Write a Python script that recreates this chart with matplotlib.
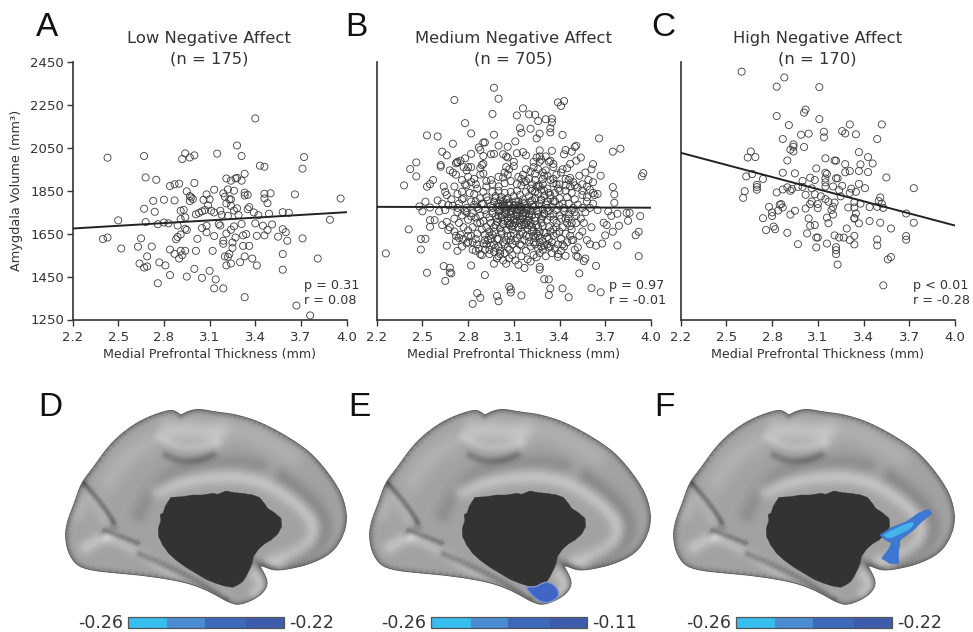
import numpy as np
import matplotlib
matplotlib.use("Agg")
import matplotlib.pyplot as plt
from matplotlib.patches import Polygon

# values
low_x = [2.43,2.67,2.68,2.75,2.84,2.87,2.90,3.00,2.94,2.92,
         2.97,3.00,3.15,3.28,3.31,3.40,3.43,3.46,3.72,3.71,
         3.33,3.27,3.28,3.21,3.24,3.31,3.13,3.22,3.26,3.19,
         3.20,2.95,2.97,2.98,2.99,2.97,3.08,3.06,3.10,3.09,
         2.73,2.80,2.87,2.67,2.74,2.50,2.68,2.76,2.80,2.83,
         2.89,2.91,2.94,2.91,2.93,3.01,3.03,3.05,3.07,3.11,
         3.13,3.17,3.18,3.22,3.24,3.23,3.24,3.21,3.26,3.28,
         3.29,3.35,3.36,3.33,3.33,3.35,3.39,3.42,3.46,3.46,
         3.50,3.48,3.49,3.58,3.62,3.66,3.96,3.89,3.71,3.61,
         3.60,3.58,3.55,3.51,3.48,3.45,3.46,3.41,3.40,3.31,
         3.26,3.24,3.21,3.34,3.32,3.27,3.25,3.19,3.19,3.16,
         3.17,3.13,3.08,3.05,3.08,3.02,2.95,2.94,2.91,2.89,
         2.88,2.65,2.40,2.43,2.52,2.63,2.72,2.84,2.87,2.91,
         2.94,3.01,3.12,2.92,2.90,2.69,2.64,2.67,2.69,2.77,
         2.81,2.84,2.76,2.95,3.00,3.05,3.10,3.14,3.13,3.19,
         3.33,3.67,3.76,3.58,3.58,3.81,3.41,3.38,3.33,3.30,
         3.24,3.21,3.22,3.23,3.20,3.25,3.32,3.36]
low_y = [2004,2012,1912,1901,1872,1880,1883,1886,2024,1998,
         2005,2015,2023,2061,2012,2187,1967,1962,2007,1953,
         1929,1907,1910,1907,1897,1897,1855,1856,1850,1838,
         1822,1847,1825,1819,1811,1802,1833,1808,1810,1782,
         1803,1808,1805,1766,1752,1712,1704,1694,1702,1698,
         1688,1718,1726,1757,1761,1740,1747,1754,1760,1757,
         1749,1757,1738,1733,1780,1810,1810,1791,1758,1768,
         1737,1764,1774,1828,1841,1831,1749,1736,1814,1836,
         1838,1792,1743,1750,1747,1833,1814,1715,1628,1617,
         1657,1671,1636,1693,1667,1687,1642,1640,1698,1695,
         1684,1668,1651,1648,1642,1632,1609,1617,1603,1695,
         1688,1639,1687,1676,1656,1626,1667,1673,1646,1635,
         1624,1628,1625,1632,1581,1589,1590,1576,1556,1570,
         1570,1570,1570,1550,1534,1544,1511,1492,1497,1516,
         1502,1457,1419,1450,1486,1444,1477,1437,1395,1395,
         1354,1315,1269,1482,1555,1534,1502,1534,1544,1517,
         1511,1502,1542,1555,1544,1583,1593,1593]

# outer points of panel B are read one by one, the dense middle is estimated
medium_x = [2.26,2.41,2.38,2.42,2.46,2.46,2.53,2.60,2.71,2.70,
            2.78,2.82,2.97,3.00,2.96,2.97,3.12,3.16,3.20,3.24,
            3.26,3.31,3.35,3.35,3.34,3.34,3.39,3.43,3.41,3.14,
            3.15,3.21,3.25,3.27,3.42,3.66,3.75,3.80,3.95,3.94,
            3.75,3.76,3.76,3.67,3.62,3.61,3.54,3.51,3.50,3.48,
            3.44,3.43,3.35,3.27,3.11,3.06,3.00,2.91,2.90,2.87,
            2.82,2.78,2.73,2.72,2.63,2.66,2.62,2.62,2.57,2.55,
            2.53,2.64,2.65,2.48,2.52,2.55,2.50,2.61,2.65,2.67,
            2.55,2.58,2.55,2.63,2.66,2.67,2.49,2.52,2.49,2.66,
            2.73,2.53,2.64,2.68,2.68,2.69,2.65,2.82,2.91,2.86,
            2.88,2.83,2.99,3.00,3.07,3.08,3.08,3.15,3.27,3.27,
            3.30,3.33,3.34,3.33,3.42,3.46,3.61,3.67,3.53,3.64,
            3.92,3.78,3.68,3.64,3.60,3.52,3.51,3.52,3.57,3.56,
            3.44,3.39,3.90,3.92,3.93,3.86,3.84,3.85,3.79,3.75,
            3.71,3.69,3.70,3.72,3.74,3.78,
            2.95,2.97,2.90,2.88,2.90,2.89,2.82,2.80,2.75,2.73,
            2.68,2.70,2.72,2.77,2.79,2.88,2.90,2.78,2.82,2.85,
            2.92,2.95,3.00,3.03,3.06,3.04,3.05,3.10,3.10,3.07,
            3.03,3.05,3.06,3.12,3.16,3.18,3.25,3.27,3.31,3.33,
            3.36,3.42,3.45,3.47,3.51,3.47,3.53,3.57,3.59,3.55,
            3.50,3.47,3.44,3.39,3.36,3.38,3.30,3.29,3.31,3.26,
            3.21,3.18,3.13,3.15,3.17,3.23,3.27,3.28,3.34,3.36,
            3.22,3.25,3.29,3.32,3.34,3.38,3.41,3.44,3.46,3.49,
            3.52,3.55,3.58,3.60,3.63,3.62,3.58,3.62,3.65,3.55,
            3.48,3.45,3.50,3.42,3.40,3.37,3.34,3.30,3.27,3.24,
            2.71,2.73,2.76,2.79,2.81,2.84,2.86,2.88,2.90,2.92,
            2.74,2.77,2.79,2.82,2.84,2.87,2.89,2.91,2.93,2.95,
            2.73,2.76,2.78,2.80,2.83,2.85,2.88,2.90,2.92,2.94,
            2.68,2.71,2.72,2.75,2.77,2.80,2.83,2.86,2.89,2.91,
            2.72,2.74,2.76,2.79,2.82,2.85,2.87,2.90,2.93,2.95,
            2.85,2.88,2.91,2.94,2.97,2.99,3.01,3.03,2.97,3.00,
            3.05,3.07,3.09,3.11,3.13,3.15,3.17,3.19,3.21,3.23,
            3.25,3.27,3.29,3.31,3.33,3.35,3.37,3.39,3.41,3.43,
            3.45,3.47,3.49,3.50,3.53,3.55,3.58,3.61,3.56,3.48,
            2.96,2.98,3.00,3.02,3.04,3.06,3.08,3.10,3.12,3.14,
            3.16,3.18,3.20,3.22,3.24,3.26,3.28,3.30,3.32,3.34,
            2.97,2.99,3.01,3.03,3.05,3.07,3.09,3.11,3.13,3.15,
            3.17,3.19,3.21,3.23,3.25,3.27,3.29,3.31,3.33,3.35,
            2.96,2.98,3.00,3.02,3.04,3.06,3.08,3.10,3.12,3.14,
            3.16,3.18,3.20,3.22,3.24,3.26,3.28,3.30,3.32,3.34,
            2.95,2.97,2.99,3.01,3.03,3.05,3.07,3.09,3.11,3.13,
            3.15,3.17,3.19,3.21,3.23,3.25,3.27,3.29,3.31,3.33,
            2.96,2.99,3.02,3.05,3.08,3.11,3.14,3.17,3.20,3.23,
            3.26,3.29,3.32,3.35,3.38,3.41,3.44,3.47,3.38,3.41,
            3.36,3.38,3.40,3.43,3.46,3.48,3.51,3.54,3.57,3.60,
            3.37,3.40,3.43,3.46,3.49,3.52,3.55,3.58,3.62,3.65,
            3.08,3.10,3.12,3.14,3.16,3.18,3.20,3.22,3.04,3.06,
            3.00,3.01,3.02,3.03,3.04,3.05,3.06,3.07,3.08,3.09,
            3.10,3.11,3.12,3.13,3.14,3.15,3.16,3.17,3.18,3.19,
            3.20,3.21,3.22,3.23,3.24,3.25,3.26,3.27,3.28,3.29,
            2.60,2.63,2.66,2.69,2.71,2.74,2.77,2.80,2.83,2.86,
            2.94,2.97,3.00,3.03,3.06,3.09,3.12,3.15,3.18,3.21,
            3.24,3.27,3.30,3.33,3.36,3.39,3.42,3.45,3.48,3.51,
            3.15,3.18,3.21,3.24,3.26,3.29,3.23,3.33,3.36,3.40,
            2.98,3.00,3.02,3.04,3.06,3.08,3.10,3.12,3.14,3.16,
            2.99,3.01,3.03,3.05,3.07,3.09,3.11,3.13,3.15,3.17,
            3.18,3.20,3.22,3.24,3.26,3.28,3.30,3.32,3.34,3.36,
            2.76,2.80,2.84,2.88,2.92,2.96,3.00,3.04,3.08,3.12,
            3.16,3.20,3.24,3.28,3.32,3.36,3.40,3.44,2.86,2.90,
            2.92,2.94,2.96,2.98,3.00,3.02,3.04,3.06,3.08,3.10,
            3.12,3.14,3.16,3.18,3.20,3.22,3.24,3.26,3.28,3.30,
            3.32,3.34,3.36,3.38,3.40,3.42,3.44,3.46,3.48,3.50,
            2.70,2.73,2.76,2.79,2.82,2.85,2.88,2.91,2.94,2.97,
            2.80,2.83,2.86,2.89,2.92,2.95,2.98,3.01,3.04,3.07]
medium_y = [1558,1670,1875,1951,1982,1917,2108,2103,2273,2069,
            2165,2117,2330,2279,2208,2111,2201,2234,2206,2204,
            2175,2183,2186,2169,2141,2122,2262,2268,2245,2142,
            2120,2139,2094,2116,2110,2094,2032,2046,1932,1917,
            1867,1833,1794,1920,1974,1950,2005,2060,2054,2032,
            2040,2020,2036,2038,2080,2055,2060,2075,2075,2052,
            2022,2001,1981,1978,2032,2015,1970,1962,1900,1881,
            1869,1870,1845,1777,1799,1772,1754,1754,1760,1783,
            1713,1713,1682,1690,1705,1667,1625,1626,1576,1594,
            1570,1468,1499,1491,1469,1465,1430,1502,1457,1373,
            1351,1323,1360,1335,1402,1390,1376,1362,1495,1483,
            1438,1437,1395,1364,1395,1354,1396,1377,1465,1500,
            1545,1595,1604,1594,1601,1586,1547,1542,1534,1522,
            1547,1542,1643,1659,1732,1747,1747,1710,1687,1659,
            1690,1701,1642,1754,1733,1743,
            2020,2022,2012,2040,1975,1970,1960,1960,1990,1985,
            1945,1935,1925,1960,1945,1955,1930,1880,1890,1880,
            1870,1900,1915,1912,1925,1935,1960,1965,1985,1950,
            2020,2010,2005,2025,2030,2015,2005,2010,2010,1985,
            1975,1950,1955,1975,1990,1910,1920,1935,1900,1880,
            1875,1870,1875,1860,1885,1880,1920,1935,1945,1950,
            1940,1950,1915,1905,1890,1985,1985,1995,1990,1960,
            1880,1870,1880,1860,1900,1925,1935,1905,1900,1890,
            1865,1850,1870,1855,1830,1890,1820,1840,1835,1830,
            1840,1820,1810,1790,1815,1840,1830,1850,1870,1845,
            1870,1835,1845,1875,1840,1835,1860,1815,1845,1820,
            1790,1815,1770,1800,1785,1765,1790,1760,1805,1780,
            1750,1735,1755,1715,1745,1725,1735,1710,1740,1725,
            1680,1660,1640,1645,1625,1665,1680,1650,1670,1645,
            1615,1630,1590,1605,1640,1625,1580,1605,1620,1595,
            1570,1555,1575,1555,1565,1535,1555,1525,1510,1545,
            1510,1535,1550,1525,1505,1545,1490,1530,1520,1550,
            1540,1560,1575,1545,1585,1560,1580,1600,1570,1590,
            1610,1640,1620,1575,1640,1660,1620,1680,1700,1670,
            1845,1825,1850,1820,1840,1815,1845,1825,1850,1830,
            1810,1845,1825,1850,1815,1835,1805,1825,1800,1815,
            1800,1775,1805,1785,1760,1795,1770,1800,1780,1760,
            1790,1770,1800,1775,1755,1790,1765,1785,1755,1775,
            1745,1730,1755,1725,1745,1720,1740,1715,1750,1730,
            1720,1745,1715,1735,1710,1740,1720,1745,1715,1730,
            1700,1680,1705,1675,1695,1665,1690,1670,1700,1680,
            1660,1695,1675,1700,1665,1690,1660,1685,1655,1680,
            1645,1625,1650,1620,1640,1615,1645,1620,1635,1610,
            1640,1615,1635,1610,1650,1625,1650,1685,1700,1720,
            1740,1760,1735,1755,1740,1760,1735,1720,1750,1770,
            1800,1780,1770,1790,1770,1785,1770,1800,1790,1760,
            1755,1765,1735,1775,1745,1760,1730,1785,1780,1710,
            1790,1760,1735,1800,1770,1745,1700,1780,1725,1755,
            1690,1785,1710,1800,1700,1775,1735,1690,1770,1710,
            1690,1755,1680,1640,1780,1650,1760,1630,1810,1730,
            1805,1790,1830,1810,1720,1700,1680,1610,1575,1700,
            1575,1600,1590,1610,1585,1600,1575,1595,1570,1590,
            1600,1610,1595,1625,1640,1555,1600,1700,1620,1700,
            1875,1895,1860,1900,1875,1905,1960,1840,1800,1850,
            1815,1735,1775,1710,1790,1700,1780,1760,1715,1795,
            1720,1780,1695,1810,1750,1685,1735,1765,1690,1750,
            1700,1740,1805,1725,1680,1700,1740,1770,1660,1715,
            1900,1915,1905,1925,1895,1880,1870,1885,1895,1880,
            1925,1905,1930,1855,1920,1905,1880,1850,1775,1790,
            1680,1660,1770,1690,1625,1660,1600,1640,1620,1650,
            1630,1600,1650,1640,1610,1660,1630,1580,1590,1655,
            1600,1590,1670,1680,1660,1680,1720,1720,1700,1750,
            1780,1770,1810,1750,1730,1800,1700,1620,1640,1660,
            1640,1610,1600,1550,1600,1625,1585,1570,1560,1575]

high_x = [2.60,2.88,2.83,3.11,3.02,3.01,2.83,3.11,2.91,3.31,
          3.52,3.26,3.28,3.35,3.14,3.14,3.04,2.99,2.87,3.49,
          2.94,2.94,2.92,2.94,3.01,2.66,2.64,2.69,2.90,3.15,
          3.21,3.22,3.37,3.43,3.46,3.28,3.38,3.37,3.43,3.55,
          3.73,3.09,2.87,2.95,3.31,3.28,3.15,3.16,2.63,2.67,
          2.74,2.70,2.70,2.70,2.62,2.61,2.83,2.87,2.90,2.92,
          2.93,2.97,3.00,3.00,3.05,3.08,3.06,3.02,3.08,3.15,
          3.15,3.15,3.22,3.23,3.20,3.26,3.24,3.12,3.25,3.32,
          3.31,3.35,3.37,3.41,3.51,3.50,3.52,3.49,3.53,3.44,
          3.38,3.34,3.30,3.34,3.21,3.15,3.17,3.20,3.19,3.20,
          3.16,3.17,3.10,3.10,3.06,3.05,3.02,2.95,2.92,2.87,
          2.86,2.85,2.84,2.78,2.80,2.80,2.74,2.81,2.82,2.76,
          2.90,3.04,3.05,3.08,3.03,3.09,3.10,2.97,3.09,3.16,
          3.21,3.24,3.27,3.31,3.34,3.34,3.29,3.34,3.34,3.35,
          3.37,3.44,3.51,3.58,3.68,3.73,3.68,3.68,3.49,3.49,
          3.22,3.22,3.22,3.23,3.58,3.56,3.53]
high_y = [2405,2378,2335,2333,2228,2214,2198,2184,2156,2159,
          2159,2128,2117,2113,2125,2099,2116,2111,2091,2091,
          2066,2055,2041,2033,2054,2033,2005,2007,1991,2001,
          1991,1990,2030,2007,1977,1974,1973,1942,1937,1912,
          1862,1954,1934,1931,1942,1936,1934,1928,1917,1928,
          1905,1878,1867,1855,1848,1817,1842,1856,1866,1850,
          1858,1868,1896,1868,1911,1900,1861,1831,1834,1907,
          1889,1870,1908,1908,1870,1873,1853,1824,1824,1860,
          1840,1845,1882,1862,1819,1802,1790,1775,1770,1774,
          1790,1797,1772,1772,1795,1811,1799,1775,1760,1739,
          1725,1699,1788,1769,1800,1788,1767,1757,1739,1772,
          1788,1785,1758,1775,1749,1732,1722,1683,1671,1667,
          1654,1721,1687,1690,1651,1632,1632,1601,1586,1604,
          1642,1632,1632,1620,1640,1600,1674,1723,1720,1744,
          1698,1709,1701,1674,1744,1701,1639,1622,1623,1595,
          1587,1573,1555,1506,1541,1530,1409]

# regression line end points at x = 2.2 and x = 4.0
line_ends = [(1674, 1750), (1775, 1771), (2027, 1688)]
line_x = [2.2, 4.0]

panel_titles = ["Low Negative Affect", "Medium Negative Affect", "High Negative Affect"]
panel_n = ["(n = 175)", "(n = 705)", "(n = 170)"]
panel_p = ["p = 0.31", "p = 0.97", "p < 0.01"]
panel_r = ["r = 0.08", "r = -0.01", "r = -0.28"]
x_ticks = [2.2, 2.5, 2.8, 3.1, 3.4, 3.7, 4.0]
y_ticks = [1250, 1450, 1650, 1850, 2050, 2250, 2450]

# colour bars under the brains
cbar_left_labels = ["-0.26", "-0.26", "-0.26"]
cbar_right_labels = ["-0.22", "-0.11", "-0.22"]
cbar_parts = [0.255, 0.24, 0.265, 0.24]
cbar_colors = ["#38bdef", "#4a8cd3", "#3e69bb", "#3d5cab"]

# hemisphere outline in 3x zoom pixels
brain_x = [465,490,520,570,620,680,740,800,850,890,925,950,962,960,945,920,880,830,770,740,715,700,
           720,725,710,680,640,610,570,530,480,420,340,260,190,150,125,117,125,145,165,200,250,300,350,410,440,455]
brain_y = [105,92,87,96,102,118,145,180,215,258,305,350,400,440,480,515,540,558,570,570,560,556,
           590,615,640,660,675,668,645,625,608,596,585,578,570,555,515,465,420,370,310,265,195,150,118,95,90,98]
hole_x = [405,402,412,418,435,470,500,530,560,575,600,625,650,680,700,715,725,745,765,767,755,735,715,700,690,682,
          678,670,660,650,635,620,595,570,540,510,480,450,428,410,398,397]
hole_y = [420,405,398,378,352,350,345,345,340,343,333,338,340,345,352,370,385,398,415,440,462,480,492,505,518,530,
          552,570,590,605,615,622,618,610,598,580,562,540,520,495,470,445]
blob_e_x = [590,615,645,665,682,688,675,650,625,605,592]
blob_e_y = [620,622,605,610,625,645,660,670,662,645,630]
blob_f_x = [690,720,770,805,835,845,815,790,750,745,745,720,695,715,725,700]
blob_f_y = [465,445,425,400,388,400,425,450,480,520,550,550,535,510,490,475]
blob_f_core_x = [700,730,770,795,785,745,715]
blob_f_core_y = [465,448,430,425,445,465,478]

# folds of the surface: line, width in screen pixels, brightness change
surface_folds = [
    ([(395,335),(470,305),(560,290),(650,290),(730,315),(810,365),(865,425),(860,480),(810,520),(740,545)], 5.5, 32),
    ([(430,150),(500,150),(570,160)], 8, 30),
    ([(400,170),(440,195),(500,205),(570,190)], 4, 20),
    ([(600,140),(700,170),(800,230)], 8, 12),
    ([(250,300),(300,230),(360,190)], 8, 14),
    ([(155,400),(190,340),(235,410)], 6, 14),
    ([(180,500),(240,465)], 5, 30),
    ([(240,470),(330,510),(400,560),(500,610),(590,650)], 4, 22),
    ([(690,585),(705,610),(690,640)], 5, 28),
    ([(420,225),(460,243),(510,243),(560,225)], 3, -34),
    ([(340,400),(370,340),(430,280),(500,255),(620,240),(700,255)], 6, -18),
    ([(770,290),(860,360),(905,430),(880,500),(800,548)], 6, -24),
    ([(340,520),(430,560),(530,610),(600,655)], 2.5, -45),
    ([(175,310),(210,350),(245,395),(262,425)], 2, -55),
    ([(265,440),(230,460)], 3, -25),
    ([(235,450),(290,470),(335,488)], 2, -40),
    ([(680,540),(740,565)], 3, -30),
]


def smooth(xs, ys, rounds=3):
    # chaikin corner cutting
    pts = np.column_stack([xs, ys]).astype(float)
    for _ in range(rounds):
        q = 0.75 * pts[:-1] + 0.25 * pts[1:]
        r = 0.25 * pts[:-1] + 0.75 * pts[1:]
        new = np.empty((len(q) * 2, 2))
        new[0::2] = q
        new[1::2] = r
        pts = np.vstack([pts[:1], new, pts[-1:]])
    return pts[:, 0], pts[:, 1]


def fold_shade(gx, gy, xs, ys, sigma):
    # gaussian falloff from a polyline, sigma given in screen pixels
    d2 = np.full(gx.shape, np.inf)
    for px, py in zip(xs, ys):
        d2 = np.minimum(d2, ((gx - px) ** 2 + (gy - py) ** 2) / 9.0)
    return np.exp(-d2 / (2 * sigma ** 2))


# shaded surface, computed once and used for the three hemispheres
grid_x, grid_y = np.meshgrid(np.arange(100, 982, 2.0), np.arange(70, 692, 2.0))
shade = np.full(grid_x.shape, 162.0)
for fold, sigma, amount in surface_folds:
    fx_s, fy_s = smooth(*zip(*fold), rounds=3)
    shade += amount * fold_shade(grid_x, grid_y, fx_s, fy_s, sigma)
ox, oy = smooth(brain_x + brain_x[:1], brain_y + brain_y[:1], 2)
shade -= 42 * fold_shade(grid_x, grid_y, ox, oy, 2.5)

plt.rcParams["font.family"] = "DejaVu Sans"
text_color = "#333333"

fig = plt.figure(figsize=(9.73, 6.32), dpi=100)

# background layer in pixel coordinates for the brains
bg = fig.add_axes([0, 0, 1, 1])
bg.axis("off")

brain_offsets = [-304, 0, 304]
for dx in brain_offsets:
    outline = Polygon(np.column_stack([330 + dx + ox / 3, 380 + oy / 3]), closed=True,
                      facecolor="none", edgecolor="#555555", lw=0.6, zorder=2)
    bg.add_patch(outline)
    im = bg.imshow(shade, cmap="gray", vmin=0, vmax=255, aspect="auto", origin="upper",
                   extent=(330 + dx + 100 / 3, 330 + dx + 982 / 3, 380 + 692 / 3, 380 + 70 / 3),
                   interpolation="bilinear", zorder=1)
    im.set_clip_path(outline)
    bg.add_patch(Polygon(np.column_stack([330 + dx + np.array(hole_x) / 3, 380 + np.array(hole_y) / 3]),
                         closed=True, facecolor="#333333", edgecolor="#333333", lw=0.3, zorder=3))

# effect regions on E and F
bx, by = smooth(blob_e_x + blob_e_x[:1], blob_e_y + blob_e_y[:1], 2)
bg.add_patch(Polygon(np.column_stack([330 + bx / 3, 380 + by / 3]), closed=True,
                     facecolor="#3f66c4", edgecolor="#7d97c6", lw=1, zorder=4))
fx = 650 + np.array(blob_f_x) / 3
fy = 380 + np.array(blob_f_y) / 3
bg.add_patch(Polygon(np.column_stack([fx, fy]), closed=True, facecolor="#3d78d2",
                     edgecolor="#3d70c8", lw=0.5, zorder=4))
cx, cy = smooth(blob_f_core_x + blob_f_core_x[:1], blob_f_core_y + blob_f_core_y[:1], 2)
bg.add_patch(Polygon(np.column_stack([650 + cx / 3, 380 + cy / 3]), closed=True,
                     facecolor="#42b4ea", edgecolor="none", zorder=5))

# colour bars
bar_starts = [127.7, 431, 735.7]
bar_len = 156
for start, left_txt, right_txt in zip(bar_starts, cbar_left_labels, cbar_right_labels):
    left = start
    for part, col in zip(cbar_parts, cbar_colors):
        bg.barh(622.5, part * bar_len, left=left, height=10.5, color=col, lw=0, zorder=2)
        left += part * bar_len
    bg.barh(622.5, bar_len, left=start, height=10.5, facecolor="none", edgecolor="#555555", lw=0.9, zorder=3)
    bg.text(start - 5, 623, left_txt, ha="right", va="center", fontsize=12.5, color=text_color)
    bg.text(start + bar_len + 5, 623, right_txt, ha="left", va="center", fontsize=12.5, color=text_color)

bg.set_xlim(0, 973)
bg.set_ylim(632, 0)

# scatter panels
panel_lefts = [72.5, 376.7, 680.7]
panel_data = [(low_x, low_y), (medium_x, medium_y), (high_x, high_y)]
note_lefts = [304, 608.7, 913]
title_centers = [209, 513.5, 817.5]

for i in range(3):
    ax = fig.add_axes([panel_lefts[i] / 973, 1 - 319.5 / 632, 274.2 / 973, 257.5 / 632])
    ax.patch.set_alpha(0)
    ax.scatter(panel_data[i][0], panel_data[i][1], s=26, facecolors="none",
               edgecolors="#3c3c3c", linewidths=0.6, clip_on=False, zorder=2)
    ax.plot(line_x, line_ends[i], color="#222222", lw=1.4, zorder=3)
    ax.set_xlim(2.2, 4.0)
    ax.set_ylim(1250, 2450)
    ax.spines["top"].set_visible(False)
    ax.spines["right"].set_visible(False)
    ax.spines["left"].set_color("#333333")
    ax.spines["bottom"].set_color("#333333")
    ax.spines["left"].set_linewidth(1.2)
    ax.spines["bottom"].set_linewidth(1.2)
    ax.set_xticks(x_ticks)
    ax.set_xticklabels(["%.1f" % t for t in x_ticks])
    ax.tick_params(axis="x", direction="out", length=4, width=1.0, labelsize=9.5,
                   colors=text_color, pad=4)
    ax.set_xlabel("Medial Prefrontal Thickness (mm)", fontsize=9.1, color=text_color, labelpad=3)
    if i == 0:
        ax.set_yticks(y_ticks)
        ax.tick_params(axis="y", direction="out", length=4, width=1.0, labelsize=9.5,
                       colors=text_color, pad=2)
    else:
        ax.set_yticks([])
    fig.text(title_centers[i] / 973, 1 - 39 / 632, panel_titles[i], ha="center", va="center",
             fontsize=11.8, color=text_color)
    fig.text(title_centers[i] / 973, 1 - 59 / 632, panel_n[i], ha="center", va="center",
             fontsize=11.8, color=text_color)
    fig.text(note_lefts[i] / 973, 1 - 285 / 632, panel_p[i], ha="left", va="center",
             fontsize=9.2, color=text_color)
    fig.text(note_lefts[i] / 973, 1 - 301 / 632, panel_r[i], ha="left", va="center",
             fontsize=9.2, color=text_color)

fig.text(17 / 973, 1 - 190 / 632, "Amygdala Volume (mm³)", rotation=90, ha="center", va="center",
         fontsize=9.3, color=text_color)

# panel letters
letters = ["A", "B", "C", "D", "E", "F"]
letter_x = [36, 345, 651, 38, 348, 654]
letter_y = [28, 28, 28, 407, 407, 407]
for t, lx, ly in zip(letters, letter_x, letter_y):
    fig.text(lx / 973, 1 - ly / 632, t, ha="left", va="center", fontsize=24,
             family="Liberation Sans", color="#111111")

fig.savefig("out.png", dpi=100)
